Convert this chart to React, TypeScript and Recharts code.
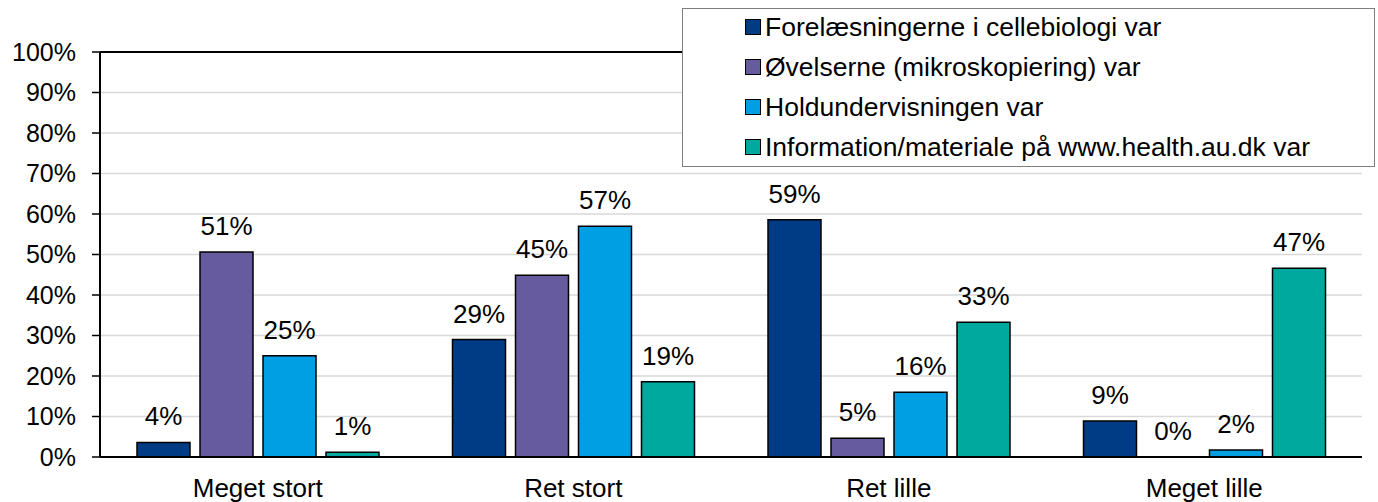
import React from "react";
import {
    BarChart,
    Bar,
    XAxis,
    YAxis,
    CartesianGrid,
    ReferenceLine,
    LabelList,
} from "recharts";

const categories = ["Meget stort", "Ret stort", "Ret lille", "Meget lille"];
const forelaesninger = [0.036, 0.29, 0.586, 0.089];
const oevelser = [0.506, 0.449, 0.046, 0];
const holdundervisning = [0.25, 0.57, 0.16, 0.017];
const information = [0.012, 0.186, 0.333, 0.466];
const yTicks = [0, 0.1, 0.2, 0.3, 0.4, 0.5, 0.6, 0.7, 0.8, 0.9, 1];

const series = [
    { key: "forelaesninger", name: "Forelæsningerne i cellebiologi var", color: "#003C85", values: forelaesninger },
    { key: "oevelser", name: "Øvelserne (mikroskopiering) var", color: "#675BA0", values: oevelser },
    { key: "hold", name: "Holdundervisningen var", color: "#009FE3", values: holdundervisning },
    { key: "info", name: "Information/materiale på www.health.au.dk var", color: "#00A99D", values: information },
];

const data = categories.map((c, i) => {
    const row: Record<string, string | number> = { category: c };
    series.forEach((s) => {
        row[s.key] = s.values[i];
    });
    return row;
});

const pct = (v: unknown) => `${Math.round(Number(v) * 100)}%`;

const FONT = '"Liberation Sans", Arial, Helvetica, sans-serif';

// zero bars get a hair-thin rect so their "0%" label is still drawn
const zeroBarSize = (v: any) => (Number(v) === 0 ? 0.01 : 0);

const ValueLabel = (props: any) => {
    const { x, y, width, height, value } = props;
    if (x == null || y == null) return null;
    const top = Number(y) + Math.min(0, Number(height) || 0);
    return (
        <text
            x={Number(x) + Number(width) / 2}
            y={top - 17}
            textAnchor="middle"
            fill="#000"
            fontSize={26}
            fontFamily={FONT}
        >
            {pct(value)}
        </text>
    );
};

export default function App() {
    return (
        <div style={{ position: "absolute", left: 0, top: 0, width: 1378, height: 502, fontFamily: FONT, background: "#fff" }}>
            <BarChart
                width={1378}
                height={502}
                data={data}
                margin={{ top: 52, right: 16, bottom: 0, left: 0 }}
                barCategoryGap={37}
                barGap={10}
            >
                <CartesianGrid vertical={false} stroke="#d9d9d9" strokeWidth={1.5} />
                <XAxis
                    dataKey="category"
                    height={45}
                    tickLine={false}
                    tickSize={0}
                    tickMargin={22}
                    axisLine={{ stroke: "#000", strokeWidth: 2 }}
                    tick={{ fill: "#000", fontSize: 26, fontFamily: FONT }}
                />
                <YAxis
                    width={100}
                    domain={[0, 1]}
                    ticks={yTicks}
                    tickFormatter={pct}
                    tickSize={8}
                    tickMargin={16}
                    tickLine={{ stroke: "#000", strokeWidth: 1.5 }}
                    axisLine={{ stroke: "#000", strokeWidth: 2 }}
                    tick={{ fill: "#000", fontSize: 25, fontFamily: FONT }}
                />
                <YAxis
                    yAxisId="right"
                    orientation="right"
                    width={0}
                    domain={[0, 1]}
                    tick={false}
                    tickLine={false}
                    axisLine={{ stroke: "#000", strokeWidth: 2 }}
                />
                <ReferenceLine y={1} stroke="#000" strokeWidth={2} />
                {series.map((s) => (
                    <Bar
                        key={s.key}
                        dataKey={s.key}
                        name={s.name}
                        fill={s.color}
                        stroke="#000"
                        strokeWidth={1.5}
                        minPointSize={zeroBarSize}
                        isAnimationActive={false}
                    >
                        <LabelList dataKey={s.key} content={<ValueLabel />} />
                    </Bar>
                ))}
            </BarChart>

            {/* legend box sits on top of the plot, upper right */}
            <div
                style={{
                    position: "absolute",
                    left: 682,
                    top: 8,
                    width: 693,
                    height: 159,
                    boxSizing: "border-box",
                    border: "1.5px solid #7f7f7f",
                    background: "#fff",
                    paddingLeft: 62,
                }}
            >
                <div style={{ marginTop: -2 }}>
                    {series.map((s) => (
                        <div key={s.key} style={{ display: "flex", alignItems: "center", height: 40, fontSize: 26.5, color: "#000" }}>
                            <span
                                style={{
                                    display: "inline-block",
                                    width: 14,
                                    height: 14,
                                    background: s.color,
                                    border: "1.5px solid #000",
                                    marginRight: 4,
                                }}
                            />
                            <span>{s.name}</span>
                        </div>
                    ))}
                </div>
            </div>
        </div>
    );
}
